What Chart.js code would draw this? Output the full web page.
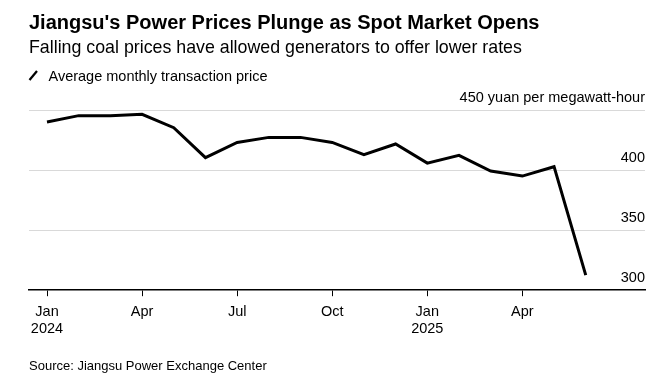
<!DOCTYPE html>
<html lang="en">
<head>
    <meta charset="UTF-8">
    <meta name="viewport" content="width=device-width, initial-scale=1.0">
    <script src="https://cdn.jsdelivr.net/npm/chart.js@4.4.1/dist/chart.umd.min.js"></script>
    <title>Jiangsu power prices</title>
    <style>
        html, body { margin: 0; padding: 0; background: #fff; }
        #wrap { width: 669px; height: 389px; position: relative; }
    </style>
</head>
<body>
    <div id="wrap">
        <canvas id="mychart-line"></canvas>
    </div>
    <script>
        var title = "Jiangsu's Power Prices Plunge as Spot Market Opens";
        var subtitle = "Falling coal prices have allowed generators to offer lower rates";
        var seriesName = "Average monthly transaction price";
        var source = "Source: Jiangsu Power Exchange Center";

        // monthly data, Jan 2024 - Jun 2025 (yuan per MWh)
        var months = ["Jan 2024", "Feb 2024", "Mar 2024", "Apr 2024", "May 2024", "Jun 2024",
                      "Jul 2024", "Aug 2024", "Sep 2024", "Oct 2024", "Nov 2024", "Dec 2024",
                      "Jan 2025", "Feb 2025", "Mar 2025", "Apr 2025", "May 2025", "Jun 2025"];
        var prices = [440, 445.3, 445.3, 446.4, 435.3, 410.3,
                      423, 427.2, 427.2, 423, 412.8, 421.7,
                      405.8, 412.2, 399.2, 395, 402.8, 312.5];

        var xTickIndex = [0, 3, 6, 9, 12, 15];
        var xTickLabels = [["Jan", "2024"], ["Apr"], ["Jul"], ["Oct"], ["Jan", "2025"], ["Apr"]];
        var yTickValues = [300, 350, 400, 450];
        var yTickLabels = ["300", "350", "400", "450 yuan per megawatt-hour"];

        var FONT = "'Liberation Sans', Arial, Helvetica, sans-serif";

        var points = [];
        for (var i = 0; i < prices.length; i++) {
            points.push({ x: i, y: prices[i] });
        }

        // title, subtitle, legend key and source note
        var textPlugin = {
            id: 'texts',
            afterDraw: function (chart) {
                var c = chart.ctx;
                c.save();
                c.fillStyle = '#000';
                c.textBaseline = 'alphabetic';
                c.textAlign = 'left';
                c.font = 'bold 20px ' + FONT;
                c.fillText(title, 29, 29);
                c.font = '17.8px ' + FONT;
                c.fillText(subtitle, 29, 53);
                c.strokeStyle = '#000';
                c.lineWidth = 2.2;
                c.beginPath();
                c.moveTo(29.5, 80);
                c.lineTo(37, 71);
                c.stroke();
                c.font = '14.5px ' + FONT;
                c.fillText(seriesName, 48.5, 81);
                c.font = '13px ' + FONT;
                c.fillText(source, 29, 370);
                c.restore();
            }
        };

        var ctx = document.getElementById('mychart-line');
        var myChart = new Chart(ctx, {
            type: 'line',
            data: {
                datasets: [{
                    label: seriesName,
                    data: points,
                    borderColor: '#000',
                    borderWidth: 3,
                    pointRadius: 0,
                    tension: 0,
                    fill: false
                }]
            },
            options: {
                responsive: true,
                maintainAspectRatio: false,
                animation: false,
                layout: { padding: { top: 110, left: 29, right: 24, bottom: 44 } },
                plugins: {
                    legend: { display: false },
                    tooltip: { enabled: false },
                    title: { display: false }
                },
                scales: {
                    x: {
                        type: 'linear',
                        min: -0.568,
                        max: 18.87,
                        afterBuildTicks: function (scale) {
                            scale.ticks = xTickIndex.map(function (v) { return { value: v }; });
                        },
                        ticks: {
                            autoSkip: false,
                            maxRotation: 0,
                            padding: 7,
                            color: '#000',
                            font: { family: FONT, size: 14.5 },
                            callback: function (value) {
                                return xTickLabels[xTickIndex.indexOf(value)];
                            }
                        },
                        grid: {
                            drawOnChartArea: false,
                            drawTicks: true,
                            tickLength: 6,
                            tickColor: '#000',
                            tickWidth: 1
                        },
                        border: { display: true, color: '#000', width: 1.5 }
                    },
                    y: {
                        position: 'right',
                        min: 300,
                        max: 450,
                        afterBuildTicks: function (scale) {
                            scale.ticks = yTickValues.map(function (v) { return { value: v }; });
                        },
                        ticks: {
                            mirror: true,
                            padding: 0,
                            labelOffset: -12,
                            color: '#000',
                            font: { family: FONT, size: 14.5 },
                            callback: function (value) {
                                return yTickLabels[yTickValues.indexOf(value)];
                            }
                        },
                        grid: {
                            drawTicks: false,
                            color: function (c) {
                                return c.tick && c.tick.value === 300 ? 'rgba(0,0,0,0)' : '#d9d9d9';
                            }
                        },
                        border: { display: false }
                    }
                }
            },
            plugins: [textPlugin]
        });
    </script>
</body>
</html>
